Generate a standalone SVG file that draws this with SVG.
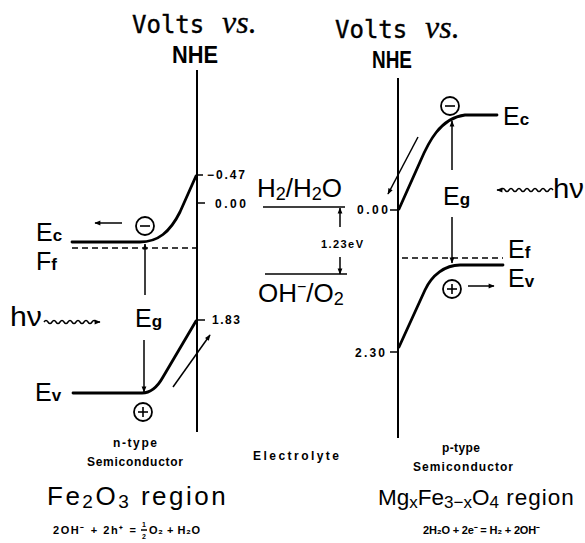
<svg xmlns="http://www.w3.org/2000/svg" width="585" height="543" viewBox="0 0 585 543">
<defs>
<marker id="ah" viewBox="0 0 10 10" refX="9" refY="5" markerWidth="7" markerHeight="6" orient="auto-start-reverse" markerUnits="userSpaceOnUse"><path d="M0,1 L10,5 L0,9 z" fill="#000"/></marker>
</defs>
<style>
.ax{stroke:#000;stroke-width:2;fill:none}
.band{stroke:#000;stroke-width:2.8;fill:none;stroke-linecap:round}
.dash{stroke:#000;stroke-width:1.6;stroke-dasharray:6 4;fill:none}
.ar{stroke:#000;stroke-width:1.5;fill:none;marker-end:url(#ah)}
.ln{stroke:#000;stroke-width:1.6;fill:none}
.tk{stroke:#000;stroke-width:1.5}
.ttl{font-family:"DejaVu Sans Mono",monospace;font-size:24px;fill:#000;stroke:#000;stroke-width:0.4}
.vs{font-family:"Liberation Serif",serif;font-style:italic;font-size:32px;stroke-width:0.3}
.nhe{font-family:"Liberation Sans",Arial,sans-serif;font-weight:bold;font-size:24px;fill:#000}
.E{font-family:"Liberation Sans",Arial,sans-serif;font-size:25px;fill:#000}
.sub{font-weight:bold;font-size:17px}
.num{font-family:"Liberation Sans",Arial,sans-serif;font-weight:bold;font-size:12px;fill:#000}
.sm{font-family:"Liberation Sans",Arial,sans-serif;font-weight:bold;font-size:12px;fill:#000}
.rx{font-family:"Liberation Sans",Arial,sans-serif;font-size:26px;fill:#000}
.big{font-family:"Liberation Sans",Arial,sans-serif;font-size:26px;fill:#000}
.circ{stroke:#000;stroke-width:1.8;fill:none}
</style>
<rect width="585" height="543" fill="#fff"/>

<g id="titles">
<text class="ttl" x="132" y="33">Volts<tspan class="vs" x="222">vs.</tspan></text>
<text class="nhe" x="172" y="63" textLength="46" lengthAdjust="spacingAndGlyphs">NHE</text>
<text class="ttl" x="335" y="38">Volts<tspan class="vs" x="425">vs.</tspan></text>
<text class="nhe" x="372" y="68" textLength="40" lengthAdjust="spacingAndGlyphs">NHE</text>
</g>

<g id="axes">
<line class="ax" x1="197" y1="70" x2="197" y2="432"/>
<line class="tk" x1="197" y1="175" x2="203" y2="175"/>
<line class="tk" x1="197" y1="203" x2="205" y2="203"/>
<line class="tk" x1="197" y1="320" x2="205" y2="320"/>
<text class="num" x="207" y="179" textLength="38" lengthAdjust="spacing">−0.47</text>
<text class="num" x="215" y="208" textLength="31" lengthAdjust="spacing">0.00</text>
<text class="num" x="212" y="324" textLength="28" lengthAdjust="spacing">1.83</text>
<line class="ax" x1="398" y1="78" x2="398" y2="438"/>
<line class="tk" x1="390" y1="210" x2="398" y2="210"/>
<line class="tk" x1="390" y1="352" x2="398" y2="352"/>
<text class="num" x="357" y="214" textLength="31" lengthAdjust="spacing">0.00</text>
<text class="num" x="355" y="357" textLength="30" lengthAdjust="spacing">2.30</text>
</g>

<g id="n-type">
<path class="band" d="M72,242 L140,242 C158,242 170,232 180,212 L196,176"/>
<path class="band" d="M73,393 L142,393 C152,393 158,386 163,377 L196,321"/>
<line class="dash" x1="72" y1="248" x2="197" y2="248"/>
<line class="ar" x1="145" y1="295" x2="145" y2="244"/>
<line class="ar" x1="144" y1="340" x2="144" y2="392"/>
<line class="ar" x1="122" y1="223" x2="95" y2="223"/>
<line class="ar" x1="173" y1="387" x2="210" y2="335"/>
<circle class="circ" cx="145" cy="226" r="9"/><line class="ln" x1="140" y1="226" x2="150" y2="226"/>
<circle class="circ" cx="143" cy="412" r="9"/><line class="ln" x1="138" y1="412" x2="148" y2="412"/><line class="ln" x1="143" y1="407" x2="143" y2="417"/>
<path class="ar" d="M44,322 q2,-3 4,0 t4,0 t4,0 t4,0 t4,0 t4,0 t4,0 t4,0 t4,0 t4,0 t4,0 t4,0 t4,0 l4,0"/>
<text class="E" x="10" y="326" style="font-size:27px" textLength="32" lengthAdjust="spacingAndGlyphs">hν</text>
<text class="E" x="36" y="241">E<tspan class="sub">c</tspan></text>
<text class="E" x="36" y="270">F<tspan class="sub">f</tspan></text>
<text class="E" x="135" y="327">E<tspan class="sub">g</tspan></text>
<text class="E" x="35" y="401">E<tspan class="sub">v</tspan></text>
<text class="sm" x="113" y="447" textLength="44" lengthAdjust="spacing">n-type</text>
<text class="sm" x="87" y="466" textLength="96" lengthAdjust="spacing">Semiconductor</text>
</g>

<g id="electrolyte">
<line class="ln" x1="263" y1="207" x2="345" y2="207"/>
<line class="ln" x1="265" y1="274" x2="347" y2="274"/>
<line class="ar" x1="340" y1="227" x2="340" y2="208"/>
<line class="ar" x1="340" y1="257" x2="340" y2="274"/>
<text class="num" x="321" y="248" style="font-size:11px" textLength="42" lengthAdjust="spacing">1.23eV</text>
<text class="rx" x="257" y="197">H<tspan font-size="18" dy="3">2</tspan><tspan dy="-3">/H</tspan><tspan font-size="18" dy="3">2</tspan><tspan dy="-3">O</tspan></text>
<text class="rx" x="258" y="302">OH<tspan font-size="16" dy="-10">−</tspan><tspan dy="10">/O</tspan><tspan font-size="18" dy="3">2</tspan></text>
<text class="sm" x="253" y="460" textLength="86" lengthAdjust="spacing">Electrolyte</text>
</g>

<g id="p-type">
<path class="band" d="M399,209 L420,162 C428,143 440,118 465,115 L497,115"/>
<path class="band" d="M399,347 L425,290 C432,275 445,265 460,265 L503,265"/>
<line class="dash" x1="402" y1="258" x2="503" y2="258"/>
<line class="ar" x1="452" y1="170" x2="452" y2="121"/>
<line class="ar" x1="452" y1="217" x2="452" y2="263"/>
<line class="ar" x1="468" y1="286" x2="494" y2="286"/>
<line class="ar" x1="418" y1="137" x2="388" y2="194"/>
<circle class="circ" cx="450" cy="106" r="9"/><line class="ln" x1="445" y1="106" x2="455" y2="106"/>
<circle class="circ" cx="452" cy="289" r="9"/><line class="ln" x1="447" y1="289" x2="457" y2="289"/><line class="ln" x1="452" y1="284" x2="452" y2="294"/>
<path class="ar" d="M553,190 q-2,-3 -4,0 t-4,0 t-4,0 t-4,0 t-4,0 t-4,0 t-4,0 t-4,0 t-4,0 t-4,0 t-4,0 t-4,0 t-4,0 l-4,0"/>
<text class="E" x="553" y="198" style="font-size:27px" textLength="31" lengthAdjust="spacingAndGlyphs">hν</text>
<text class="E" x="503" y="125">E<tspan class="sub">c</tspan></text>
<text class="E" x="443" y="205">E<tspan class="sub">g</tspan></text>
<text class="E" x="508" y="258">E<tspan class="sub">f</tspan></text>
<text class="E" x="508" y="287">E<tspan class="sub">v</tspan></text>
<text class="sm" x="442" y="452" textLength="38" lengthAdjust="spacing">p-type</text>
<text class="sm" x="413" y="471" textLength="100" lengthAdjust="spacing">Semiconductor</text>
</g>

<g id="regions">
<text class="big" x="47" y="505" letter-spacing="2.5">Fe<tspan font-size="19" dy="3">2</tspan><tspan dy="-3">O</tspan><tspan font-size="19" dy="3">3</tspan><tspan dy="-3"> region</tspan></text>
<text class="sm" x="53" y="534" style="font-size:11px" textLength="83" lengthAdjust="spacing">2OH⁻ + 2h⁺ =</text>
<text class="num" x="142" y="527" style="font-size:7px">1</text>
<line class="tk" x1="141" y1="530" x2="147" y2="530" stroke-width="1"/>
<text class="num" x="142" y="539" style="font-size:7px">2</text>
<text class="sm" x="149" y="534" style="font-size:11px" textLength="51" lengthAdjust="spacing">O₂ + H₂O</text>
<text class="big" x="378" y="505" style="font-size:22.5px">Mg<tspan font-size="17" dy="3">x</tspan><tspan dy="-3">Fe</tspan><tspan font-size="17" dy="3">3−x</tspan><tspan dy="-3">O</tspan><tspan font-size="17" dy="3">4</tspan><tspan dy="-3" letter-spacing="1"> region</tspan></text>
<text class="sm" x="423" y="534" style="font-size:11px" textLength="117" lengthAdjust="spacing">2H₂O + 2e⁻  = H₂ + 2OH⁻</text>
</g>
</svg>
